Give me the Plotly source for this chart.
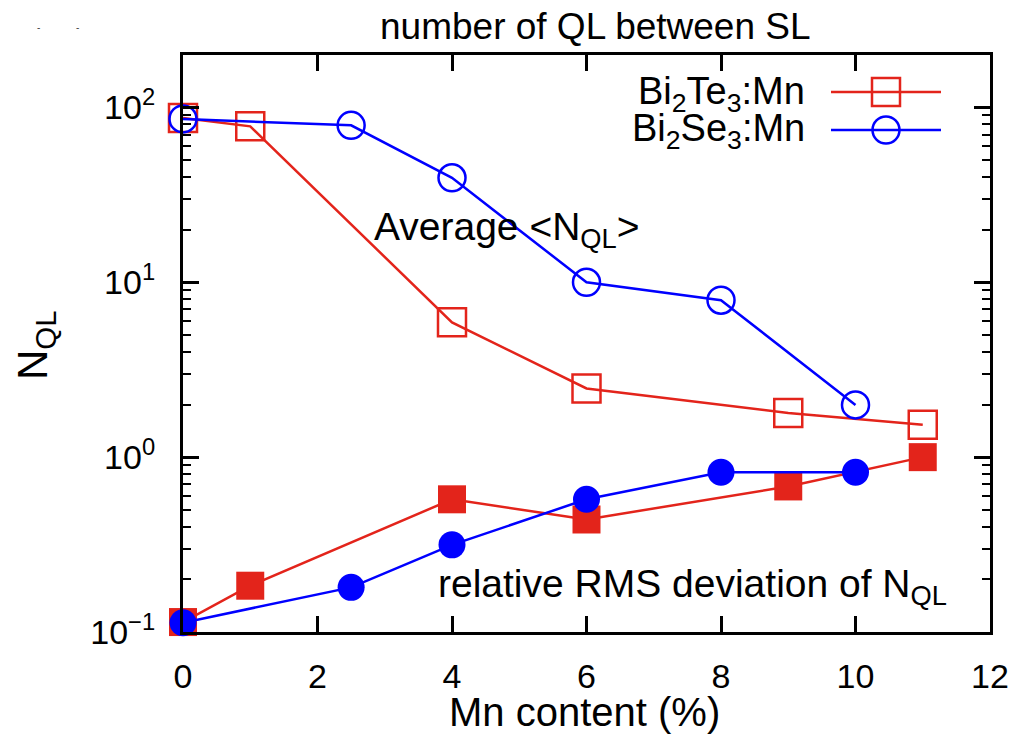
import plotly.graph_objects as go

# Data
te_x = [0, 1, 4, 6, 9, 11]
te_avg = [87, 78, 5.9, 2.47, 1.79, 1.53]
te_rms = [0.114, 0.184, 0.574, 0.44, 0.68, 1.0]

se_x = [0, 2.5, 4, 6, 8, 10]
se_avg = [86, 79, 39.6, 10, 7.9, 1.99]
se_rms = [0.113, 0.18, 0.315, 0.574, 0.82, 0.82]

x_ticks = [0, 2, 4, 6, 8, 10, 12]
y_ticks = [0.1, 1, 10, 100]
y_ticktext = ["10<sup>\u22121</sup>", "10<sup>0</sup>", "10<sup>1</sup>", "10<sup>2</sup>"]
y_minor = [m * d for d in (0.1, 1, 10, 100) for m in range(2, 10) if m * d < 200]

RED = "#e3241b"
BLUE = "#0000ff"
FONT = "Liberation Sans"

fig = go.Figure()

fig.add_trace(go.Scatter(x=te_x, y=te_avg, mode="lines+markers", cliponaxis=False,
                         line=dict(color=RED, width=2.5),
                         marker=dict(symbol="square-open", size=28, color=RED, line=dict(width=2.5, color=RED)),
                         showlegend=False))
fig.add_trace(go.Scatter(x=te_x, y=te_rms, mode="lines+markers", cliponaxis=False,
                         line=dict(color=RED, width=2.5),
                         marker=dict(symbol="square", size=28, color=RED),
                         showlegend=False))
fig.add_trace(go.Scatter(x=se_x, y=se_avg, mode="lines+markers", cliponaxis=False,
                         line=dict(color=BLUE, width=2.5),
                         marker=dict(symbol="circle-open", size=27, color=BLUE, line=dict(width=2.5, color=BLUE)),
                         showlegend=False))
fig.add_trace(go.Scatter(x=se_x, y=se_rms, mode="lines+markers", cliponaxis=False,
                         line=dict(color=BLUE, width=2.5),
                         marker=dict(symbol="circle", size=27, color=BLUE),
                         showlegend=False))

# The page body adds an 8 px offset; positions below are in page pixels.
OFF = 8
W, H = 1020, 741
L, T = 183 - OFF, 55 - OFF
R = W - (990 - OFF)
B = H - (632 - OFF)
pw, ph = W - L - R, H - T - B


def px(xp):
    return (xp - OFF - L) / pw


def py(yp):
    return (H - B - (yp - OFF)) / ph


def ann(text, x, y, size, xanchor="center", angle=0, color="black"):
    return dict(text=text, x=px(x), y=py(y), xref="paper", yref="paper", textangle=angle,
                xanchor=xanchor, yanchor="middle", showarrow=False,
                font=dict(size=size, family=FONT, color=color))


annotations = [
    ann("number of QL between SL", 595, 27, 37),
    ann("Mn content (%)", 584, 712, 40),
    ann("N<sub>QL</sub>", 35, 345, 42, angle=-90),
    ann("Average &lt;N<sub>QL</sub>&gt;", 372, 229, 39, xanchor="left"),
    ann("relative RMS deviation of N<sub>QL</sub>", 436, 586, 39, xanchor="left"),
    ann("Bi<sub>2</sub>Te<sub>3</sub>:Mn", 807, 94, 38, xanchor="right"),
    ann("Bi<sub>2</sub>Se<sub>3</sub>:Mn", 807, 131, 38, xanchor="right"),
    ann("-", 38, 28, 10, color="#444"),
    ann("-", 77, 28, 10, color="#444"),
]

shapes = [
    dict(type="line", xref="paper", yref="paper", x0=px(831), x1=px(941), y0=py(92), y1=py(92),
         line=dict(color=RED, width=2.5)),
    dict(type="rect", xref="paper", yref="paper", x0=px(872), x1=px(900), y0=py(106), y1=py(78),
         line=dict(color=RED, width=2.5)),
    dict(type="line", xref="paper", yref="paper", x0=px(831), x1=px(941), y0=py(130), y1=py(130),
         line=dict(color=BLUE, width=2.5)),
    dict(type="circle", xref="paper", yref="paper", x0=px(872.5), x1=px(899.5), y0=py(143.5), y1=py(116.5),
         line=dict(color=BLUE, width=2.5)),
]

fig.update_layout(
    width=W, height=H,
    margin=dict(l=L, r=R, t=T, b=B, pad=0),
    paper_bgcolor="white", plot_bgcolor="white",
    font=dict(family=FONT, color="black", size=34),
    annotations=annotations, shapes=shapes,
    showlegend=False,
)
fig.update_xaxes(range=[0, 12], tickvals=x_ticks, ticks="inside", ticklen=16, tickwidth=2.5,
                 tickcolor="black", showline=True, linecolor="black", linewidth=3, mirror="ticks",
                 showgrid=False, zeroline=False, tickfont=dict(size=34, family=FONT, color="black"),
                 ticklabelstandoff=12)
fig.update_yaxes(type="log", range=[-1, 2.3], tickvals=y_ticks, ticktext=y_ticktext,
                 ticks="inside", ticklen=16, tickwidth=2.5, tickcolor="black",
                 showline=True, linecolor="black", linewidth=3, mirror="ticks",
                 showgrid=False, zeroline=False, tickfont=dict(size=34, family=FONT, color="black"),
                 ticklabelstandoff=18,
                 minor=dict(tickvals=y_minor, ticks="inside", ticklen=8, tickwidth=2,
                            tickcolor="black", showgrid=False))

fig.write_html("out.html")
